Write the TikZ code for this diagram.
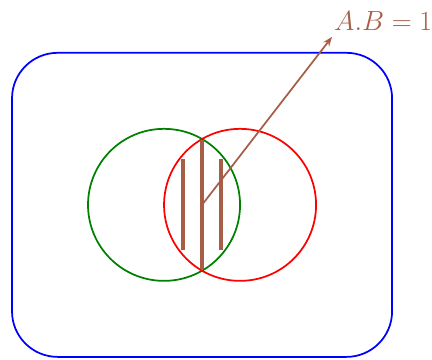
\documentclass[tikz,border=0pt]{standalone}
\usepackage{amsmath}
\usetikzlibrary{arrows.meta,positioning}
\definecolor{vecc}{HTML}{A65E46}
\begin{document}
\begin{tikzpicture}[
  bar/.style={draw=vecc,line width=3pt},
  every path/.style={line width=1.3pt}]
\useasboundingbox (-0.316,-0.079) rectangle (11.05,9.39);
\draw[blue,rounded corners=1.2cm] (0,0) rectangle (10,8);
\draw[green!50!black] (4,4) circle (2);
\draw[red] (6,4) circle (2);
\draw[bar] (4.5,2.8)--(4.5,5.2);
\draw[bar] (5,2.3)--(5,5.7);
\draw[bar] (5.5,2.8)--(5.5,5.2);
\coordinate (o) at (5,4);
\coordinate (tip) at (8.42,8.42);
\draw[vecc,-{Stealth[length=2.5mm]}] (o)--(tip) node[above right,inner sep=1pt,yshift=3pt,font=\huge](lab){$A.B=1$};
\end{tikzpicture}
\end{document}
